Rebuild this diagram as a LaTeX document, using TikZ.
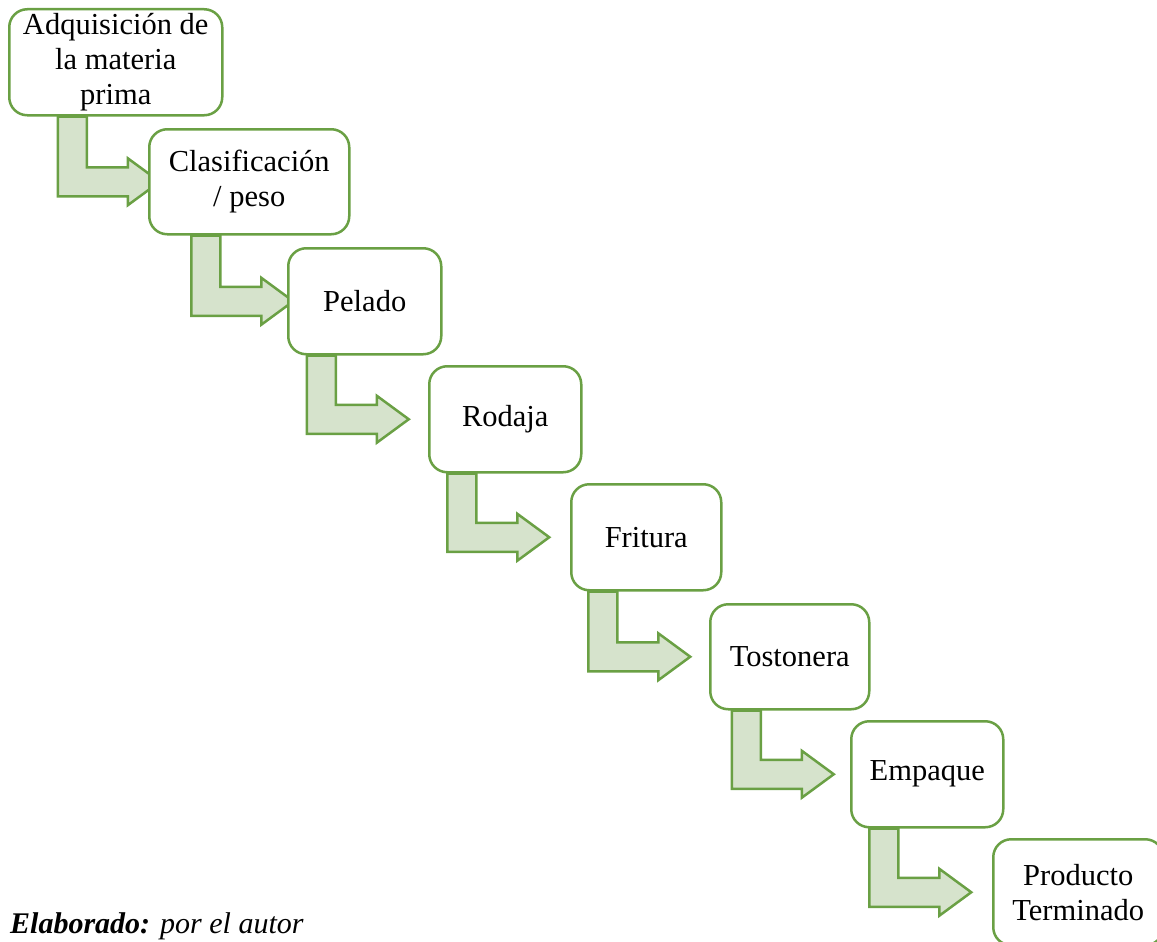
\documentclass[tikz,border=0pt]{standalone}
\usepackage{fontspec}
\setmainfont{Liberation Serif}
\usetikzlibrary{positioning, calc, backgrounds}

\definecolor{boxgreen}{RGB}{106,160,68}
\definecolor{flowfill}{RGB}{214,227,204}

% bent arrow from the bottom of one box to the left of the next
\newcommand{\bentflow}[2]{%
    \draw[flow] let \p1=(#1.south), \p2=(#2.center) in
        (\x1-58pt,\y1) -- (\x1-29pt,\y1) -- (\x1-29pt,\y2+14.5pt)
        -- (\x1+12pt,\y2+14.5pt) -- (\x1+12pt,\y2+23.5pt) -- (\x1+44pt,\y2)
        -- (\x1+12pt,\y2-23.5pt) -- (\x1+12pt,\y2-14.5pt)
        -- (\x1-58pt,\y2-14.5pt) -- cycle;%
}

\begin{document}
\begin{tikzpicture}[
    x=1pt, y=-1pt,
    step box/.style={
        rectangle,
        draw=boxgreen,
        fill=white,
        line width=2.5pt,
        rounded corners=18pt,
        anchor=north west,
        minimum height=106pt,
        inner sep=2pt,
        align=center,
        font=\fontsize{30.5}{35}\selectfont
    },
    flow/.style={
        draw=boxgreen,
        fill=flowfill,
        line width=2.5pt,
        line join=miter
    },
    note/.style={
        anchor=base west,
        inner sep=0pt,
        font=\fontsize{30}{34}\selectfont
    }
]

    \useasboundingbox (0,0) rectangle (1157,942);
    \clip (0,0) rectangle (1157,942);

    % Boxes
    \node[step box, minimum width=213pt] (adq) at (8,8) {Adquisición de\\la materia\\prima};
    \node[step box, minimum width=200pt, minimum height=105pt] (clas) at (148,128) {Clasificación\\/ peso};
    \node[step box, minimum width=153pt] (pel) at (287,247) {Pelado};
    \node[step box, minimum width=152pt] (rod) at (428,365) {Rodaja};
    \node[step box, minimum width=150pt] (frit) at (570,483) {Fritura};
    \node[step box, minimum width=159pt, minimum height=105pt] (tost) at (709,603) {Tostonera};
    \node[step box, minimum width=152pt] (emp) at (850,720) {Empaque};
    \node[step box, minimum width=170pt] (prod) at (992,838) {Producto\\Terminado};

    % Arrows
    \begin{scope}[on background layer]
        \bentflow{adq}{clas}
        \bentflow{clas}{pel}
        \bentflow{pel}{rod}
        \bentflow{rod}{frit}
        \bentflow{frit}{tost}
        \bentflow{tost}{emp}
        \bentflow{emp}{prod}
    \end{scope}

    % Source
    \node[note] (src) at (10,933) {\textbf{\textit{Elaborado:}} \textit{por el autor}};

\end{tikzpicture}
\end{document}
